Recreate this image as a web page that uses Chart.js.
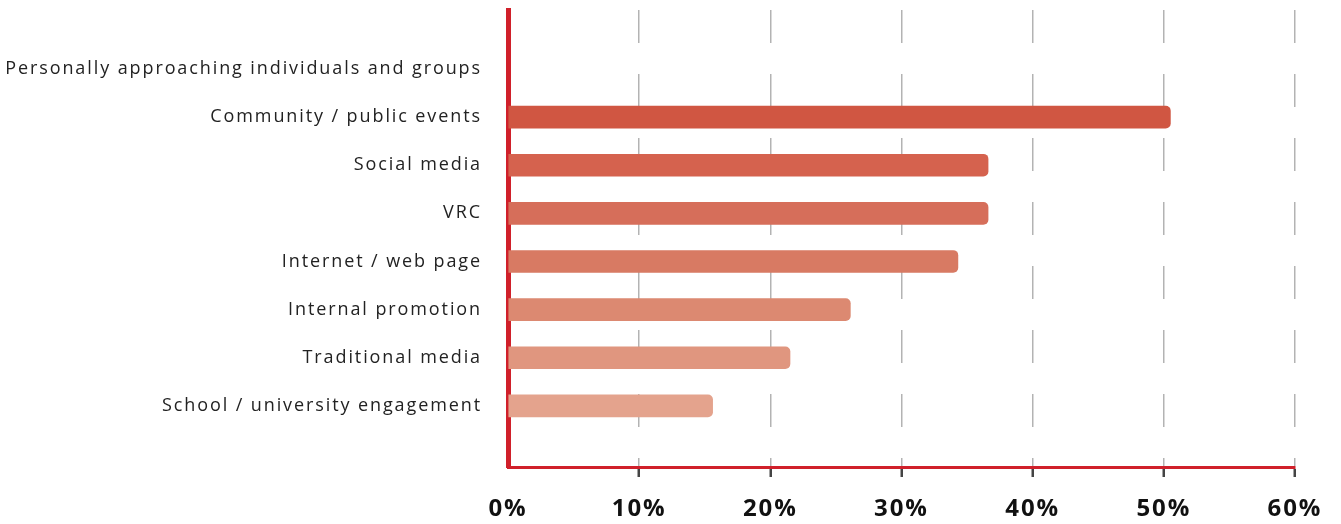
<!DOCTYPE html>
<html>
<head>
<meta charset="utf-8">
<script src="https://cdn.jsdelivr.net/npm/chart.js@4"></script>
<style>
  html, body { margin: 0; padding: 0; background: #fff; }
  #wrap { width: 1341px; height: 524px; }
</style>
</head>
<body>
<div id="wrap"><canvas id="myChart"></canvas></div>
<script>
// categories, top to bottom
var arrLabels = [
    'Personally approaching individuals and groups',
    'Community / public events',
    'Social media',
    'VRC',
    'Internet / web page',
    'Internal promotion',
    'Traditional media',
    'School / university engagement'
]
// percent of respondents (first row has no bar)
var arrDados = [null, 50.5, 36.6, 36.6, 34.3, 26.1, 21.5, 15.6]
var arrCores = ['#d05642', '#d05642', '#d5624e', '#d66e5a', '#d87a63', '#dc8971', '#e0967f', '#e4a38d']
var xTicks = [0, 10, 20, 30, 40, 50, 60]

const vermelho = '#d0202a'

// canvas letter spacing (reset every time the canvas is resized)
const espacamento = {
    id: 'espacamento',
    beforeUpdate(c) { c.ctx.letterSpacing = '1.9px' },
    beforeDraw(c) { c.ctx.letterSpacing = '1.9px' }
}

const data = {
    labels: arrLabels.map((_, i) => i),
    datasets: [{
        data: arrDados,
        backgroundColor: arrCores,
        borderWidth: 0,
        borderRadius: 5,
        borderSkipped: 'start',
        barThickness: 22
    }]
}

const opcoes = {
    indexAxis: 'y',
    responsive: true,
    maintainAspectRatio: false,
    animation: false,
    layout: {
        padding: { top: 10, right: 46, left: 0, bottom: 0 }
    },
    plugins: {
        legend: { display: false },
        tooltip: { enabled: false }
    },
    scales: {
        x: {
            type: 'linear',
            min: xTicks[0],
            max: xTicks[xTicks.length - 1],
            afterBuildTicks: s => { s.ticks = xTicks.map(v => ({ value: v })) },
            afterFit: s => { s.height = 57; s.paddingLeft = 0; s.paddingRight = 0 },
            grid: {
                color: '#b3b3b3',
                lineWidth: 1.5,
                tickLength: 10,
                tickWidth: 2.5,
                tickColor: ctx => ctx.index === 0 ? 'rgba(0,0,0,0)' : '#444'
            },
            border: { color: vermelho, width: 3, dash: [33, 31] },
            ticks: {
                color: '#111',
                padding: 18,
                font: { family: '"Open Sans"', size: 24, weight: 'bold' },
                callback: v => v + '%'
            }
        },
        y: {
            type: 'linear',
            reverse: true,
            bounds: 'data',
            offset: false,
            min: -1.225,
            max: 8.27,
            z: 1,
            afterBuildTicks: s => { s.ticks = arrLabels.map((_, i) => ({ value: i })) },
            afterFit: s => { s.width = 508; s.paddingTop = 0; s.paddingBottom = 0 },
            grid: { display: false, drawTicks: false, offset: false },
            border: { color: vermelho, width: 5 },
            ticks: {
                color: '#222',
                padding: 26,
                autoSkip: false,
                font: { family: '"Open Sans"', size: 18 },
                callback: v => arrLabels[v]
            }
        }
    }
}

const config = {
    type: 'bar',
    data: data,
    options: opcoes,
    plugins: [espacamento]
}

const grafico = new Chart(document.getElementById('myChart'), config)
</script>
</body>
</html>
